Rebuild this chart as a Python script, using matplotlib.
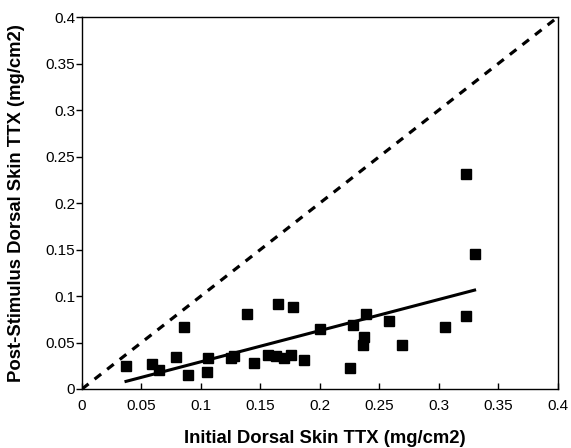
import matplotlib
matplotlib.use("Agg")
import matplotlib.pyplot as plt
import numpy as np

# Initial vs post-stimulus dorsal skin TTX (mg/cm2)
initial_ttx = [0.037, 0.059, 0.065, 0.079, 0.086, 0.089, 0.105, 0.106,
               0.125, 0.128, 0.139, 0.145, 0.156, 0.163, 0.170, 0.176,
               0.165, 0.177, 0.187, 0.200, 0.225, 0.228, 0.237, 0.236,
               0.239, 0.258, 0.269, 0.305, 0.323, 0.323, 0.330]
post_ttx = [0.025, 0.027, 0.020, 0.034, 0.067, 0.015, 0.018, 0.033,
            0.033, 0.035, 0.081, 0.028, 0.037, 0.036, 0.033, 0.037,
            0.091, 0.088, 0.031, 0.065, 0.023, 0.069, 0.056, 0.047,
            0.081, 0.073, 0.047, 0.067, 0.078, 0.231, 0.145]

# regression line as it appears in the figure
fit_slope = 0.335
fit_intercept = -0.0042

ticks = [0, 0.05, 0.1, 0.15, 0.2, 0.25, 0.3, 0.35, 0.4]
tick_labels = ["0", "0.05", "0.1", "0.15", "0.2", "0.25", "0.3", "0.35", "0.4"]


def main():
    plt.rcParams["font.family"] = ["Liberation Sans", "DejaVu Sans"]

    fig = plt.figure(figsize=(5.71, 4.48), dpi=100)
    ax = fig.add_axes([0.1436, 0.1317, 0.8334, 0.8303])

    # 1:1 line
    ax.plot([0, 0.4], [0, 0.4], color="black", lw=2.3,
            linestyle=(0, (2.6, 2.4)), solid_capstyle="butt", zorder=2)

    # fitted line
    xs = np.array([min(initial_ttx), max(initial_ttx)])
    ax.plot(xs, fit_slope * xs + fit_intercept, color="black", lw=2.2, zorder=2)

    ax.plot(initial_ttx, post_ttx, linestyle="none", marker="s",
            markersize=7.5, color="black", zorder=3, clip_on=False)

    ax.set_xlim(0, 0.4)
    ax.set_ylim(0, 0.4)
    ax.set_xticks(ticks)
    ax.set_xticklabels(tick_labels)
    ax.set_yticks(ticks)
    ax.set_yticklabels(tick_labels)

    ax.tick_params(axis="x", direction="in", length=4, width=1,
                   labelsize=11, pad=7)
    ax.tick_params(axis="y", direction="out", length=4, width=1,
                   labelsize=11, pad=1)
    for sp in ax.spines.values():
        sp.set_linewidth(1)

    ax.set_xlabel("Initial Dorsal Skin TTX (mg/cm2)", fontsize=13.3,
                  fontweight="bold")
    ax.set_ylabel("Post-Stimulus Dorsal Skin TTX (mg/cm2)", fontsize=13.3,
                  fontweight="bold")
    ax.xaxis.set_label_coords(0.51, -0.132)
    ax.yaxis.set_label_coords(-0.137, 0.5)
    ax.xaxis.label.set_va("center")
    ax.yaxis.label.set_va("center")

    fig.savefig("out.png", dpi=100)


if __name__ == "__main__":
    main()
